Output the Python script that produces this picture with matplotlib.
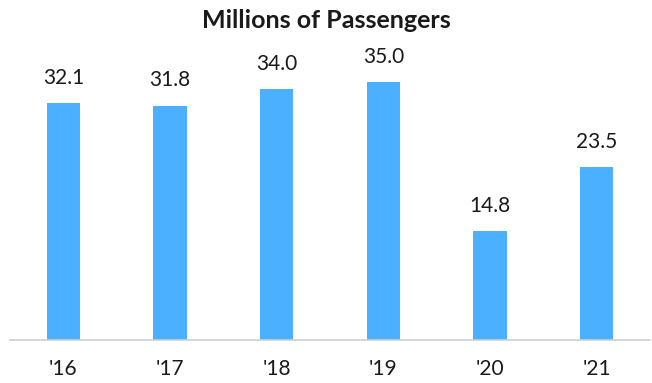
import numpy as np
from matplotlib import pyplot as plt

years = ["'16", "'17", "'18", "'19", "'20", "'21"]
passengers = [32.1, 31.8, 34.0, 35.0, 14.8, 23.5]

plt.rcParams['font.family'] = ['Lato', 'DejaVu Sans']

fig = plt.figure(figsize=(6.52, 3.83), dpi=100)
ax = fig.add_axes([10/652, 43/383, 640/652, 280/383])

x = np.arange(len(years))
bars = ax.bar(x, passengers, width=0.31, color='#4AB0FF')
for b, v in zip(bars, passengers):
    ax.annotate(f'{v:.1f}', (b.get_x() + b.get_width()/2, v),
                xytext=(0, 11), textcoords='offset points',
                ha='center', va='bottom', fontsize=15, color='#1a1a1a')

ax.set_xlim(-0.5, 5.5)
ax.set_ylim(0, 38)
ax.set_xticks(x)
ax.set_xticklabels(years, fontsize=15, color='#1a1a1a')
ax.tick_params(axis='x', length=0, pad=14)
ax.set_yticks([])
for s in ['top', 'right', 'left']:
    ax.spines[s].set_visible(False)
ax.spines['bottom'].set_color('#d0d0d0')
ax.spines['bottom'].set_linewidth(1.2)

fig.text(0.5, 1 - 21/383, 'Millions of Passengers', ha='center', va='center',
         fontsize=18, fontweight='bold', color='#1a1a1a')

fig.savefig('out.png', dpi=100)
